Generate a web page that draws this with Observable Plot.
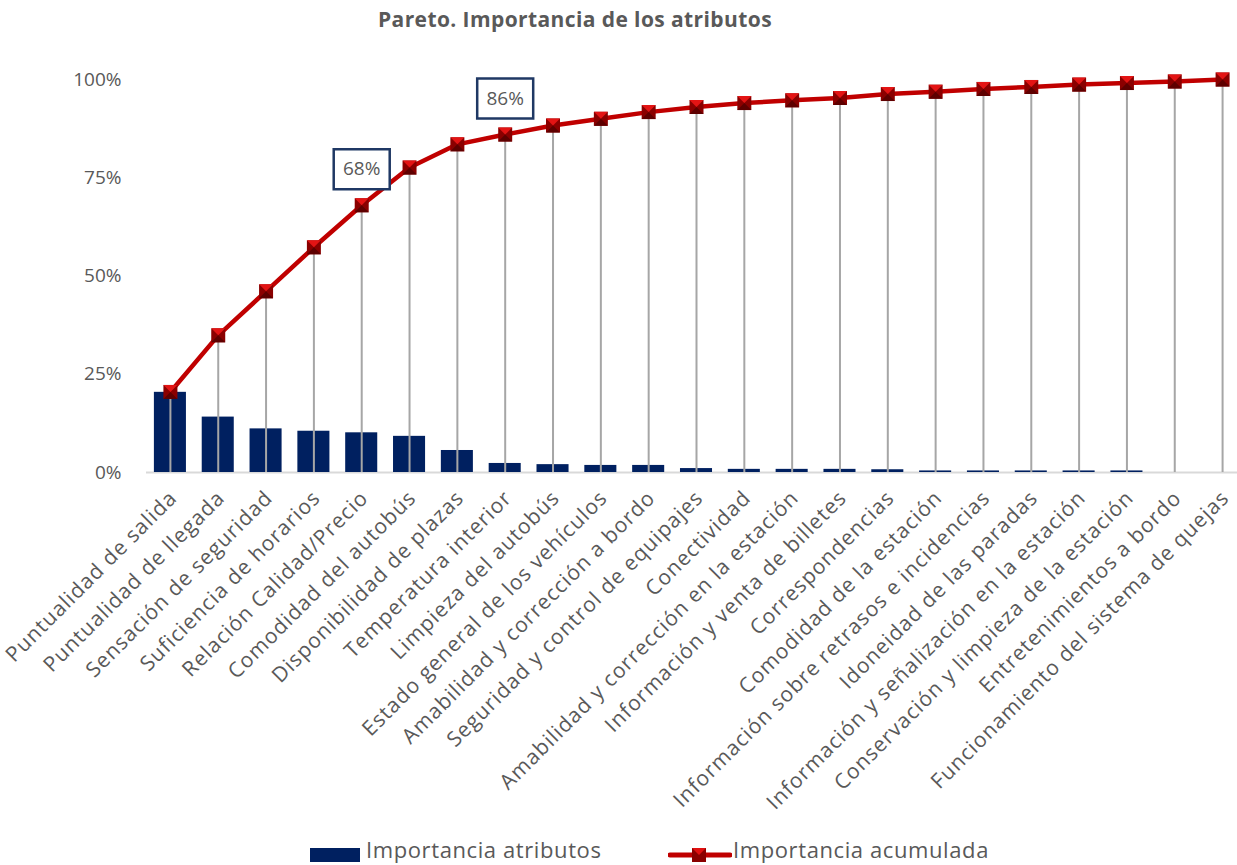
<!DOCTYPE html>
<html>
<head>
<meta charset="utf-8">
<script src="https://cdn.jsdelivr.net/npm/d3@7"></script>
<script src="https://cdn.jsdelivr.net/npm/@observablehq/plot@0.6"></script>
<style>
  html, body { margin: 0; padding: 0; background: #fff; overflow: hidden; }
  body { width: 1237px; height: 865px; position: relative; font-family: "Open Sans", sans-serif; color: #595959; }
  #title { position: absolute; top: 5px; left: 0; width: 1150px; text-align: center; font-weight: 700; font-size: 21px; letter-spacing: 0.4px; color: #595959; }
  #chart { position: absolute; top: 40px; left: 0; }
  #legend { position: absolute; top: 835px; left: 0; width: 1237px; height: 29px; font-size: 22px; line-height: 28px; letter-spacing: 0.6px; color: #595959; }
  .sw { position: absolute; }
</style>
</head>
<body>
<div id="title">Pareto. Importancia de los atributos</div>
<div id="chart"></div>
<div id="legend">
  <div class="sw" style="left:310px; top:13px; width:50px; height:14px; background:#002060;"></div>
  <div class="sw" style="left:366px; top:0px;">Importancia atributos</div>
  <svg class="sw" style="left:668px; top:10px;" width="64" height="20">
    <line x1="2" y1="10" x2="62" y2="10" stroke="#C00000" stroke-width="5" stroke-linecap="round"></line>
    <rect x="24" y="3" width="14" height="14" fill="#8a0000"></rect>
    <polygon points="24,3 38,3 31,10" fill="#e01010"></polygon>
  </svg>
  <div class="sw" style="left:733px; top:0px;">Importancia acumulada</div>
</div>
<script>
const categories = [
  "Puntualidad de salida",
  "Puntualidad de llegada",
  "Sensación de seguridad",
  "Suficiencia de horarios",
  "Relación Calidad/Precio",
  "Comodidad del autobús",
  "Disponibilidad de plazas",
  "Temperatura interior",
  "Limpieza del autobús",
  "Estado general de los vehículos",
  "Amabilidad y corrección a bordo",
  "Seguridad y control de equipajes",
  "Conectividad",
  "Amabilidad y corrección en la estación",
  "Información y venta de billetes",
  "Correspondencias",
  "Comodidad de la estación",
  "Información sobre retrasos e incidencias",
  "Idoneidad de las paradas",
  "Información y señalización en la estación",
  "Conservación y limpieza de la estación",
  "Entretenimientos a bordo",
  "Funcionamiento del sistema de quejas"
];
const importancia = [20.4, 14.1, 11.1, 10.5, 10.1, 9.2, 5.6, 2.3, 2.0, 1.8, 1.8, 1.0, 0.8, 0.8, 0.8, 0.7, 0.4, 0.4, 0.4, 0.4, 0.4, 0, 0];
const acumulada = [20.5, 34.9, 46.1, 57.3, 68.0, 77.6, 83.5, 86.0, 88.3, 90.0, 91.7, 93.0, 94.0, 94.7, 95.3, 96.3, 96.9, 97.6, 98.1, 98.7, 99.1, 99.5, 100];
const yTicks = [0, 25, 50, 75, 100];
const calloutCats = ["Relación Calidad/Precio", "Temperatura interior"];
const calloutLabels = ["68%", "86%"];

const data = categories.map((c, i) => ({cat: c, imp: importancia[i], cum: acumulada[i]}));
const callouts = calloutCats.map((c, i) => ({cat: c, cum: acumulada[categories.indexOf(c)], label: calloutLabels[i]}));

const boxSymbol = {draw(ctx) { ctx.rect(-28, -20, 56, 40); }};
const squareSym = {draw(ctx) { ctx.rect(-7, -7, 14, 14); }};
const topTri = {draw(ctx) { ctx.moveTo(-7, -7); ctx.lineTo(7, -7); ctx.lineTo(0, 0); ctx.closePath(); }};
const botTri = {draw(ctx) { ctx.moveTo(-7, 7); ctx.lineTo(7, 7); ctx.lineTo(0, 0); ctx.closePath(); }};

const chart = Plot.plot({
  width: 1237,
  height: 790,
  marginLeft: 146,
  marginRight: -9,
  marginTop: 39,
  marginBottom: 358,
  style: {fontFamily: "'Open Sans', sans-serif", fontSize: "19px", color: "#595959", background: "transparent", overflow: "visible"},
  x: {domain: categories, paddingInner: 0.33, paddingOuter: 0.165, round: false, label: null},
  y: {domain: [0, 100], label: null},
  marks: [
    Plot.ruleY([0], {stroke: "#D9D9D9", strokeWidth: 2}),
    Plot.barY(data, {x: "cat", y: "imp", fill: "#002060"}),
    Plot.ruleX(data, {x: "cat", y1: 0, y2: "cum", stroke: "#A6A6A6", strokeWidth: 2}),
    Plot.line(data, {x: "cat", y: "cum", stroke: "#C00000", strokeWidth: 4.5}),
    Plot.dot(data, {x: "cat", y: "cum", symbol: squareSym, fill: "#8a0000", r: 5}),
    Plot.dot(data, {x: "cat", y: "cum", symbol: topTri, fill: "#e31414", r: 5}),
    Plot.dot(data, {x: "cat", y: "cum", symbol: botTri, fill: "#5e0000", r: 5}),
    Plot.dot(callouts, {x: "cat", y: "cum", symbol: boxSymbol, r: 5, dy: -36, fill: "white", stroke: "#1F3864", strokeWidth: 2.5}),
    Plot.text(callouts, {x: "cat", y: "cum", text: "label", dy: -36, fontSize: 19, fill: "#595959"}),
    Plot.axisY({ticks: yTicks, tickSize: 0, tickPadding: 25, tickFormat: d => d + "%", fontSize: 19, label: null}),
    Plot.axisX({tickSize: 0, tickRotate: -45, tickPadding: 22, dx: 3, fontSize: 21, label: null})
  ]
});
chart.querySelectorAll("[aria-label='x-axis tick label'] text").forEach(t => t.setAttribute("letter-spacing", "1px"));
document.getElementById("chart").appendChild(chart);
</script>
</body>
</html>
